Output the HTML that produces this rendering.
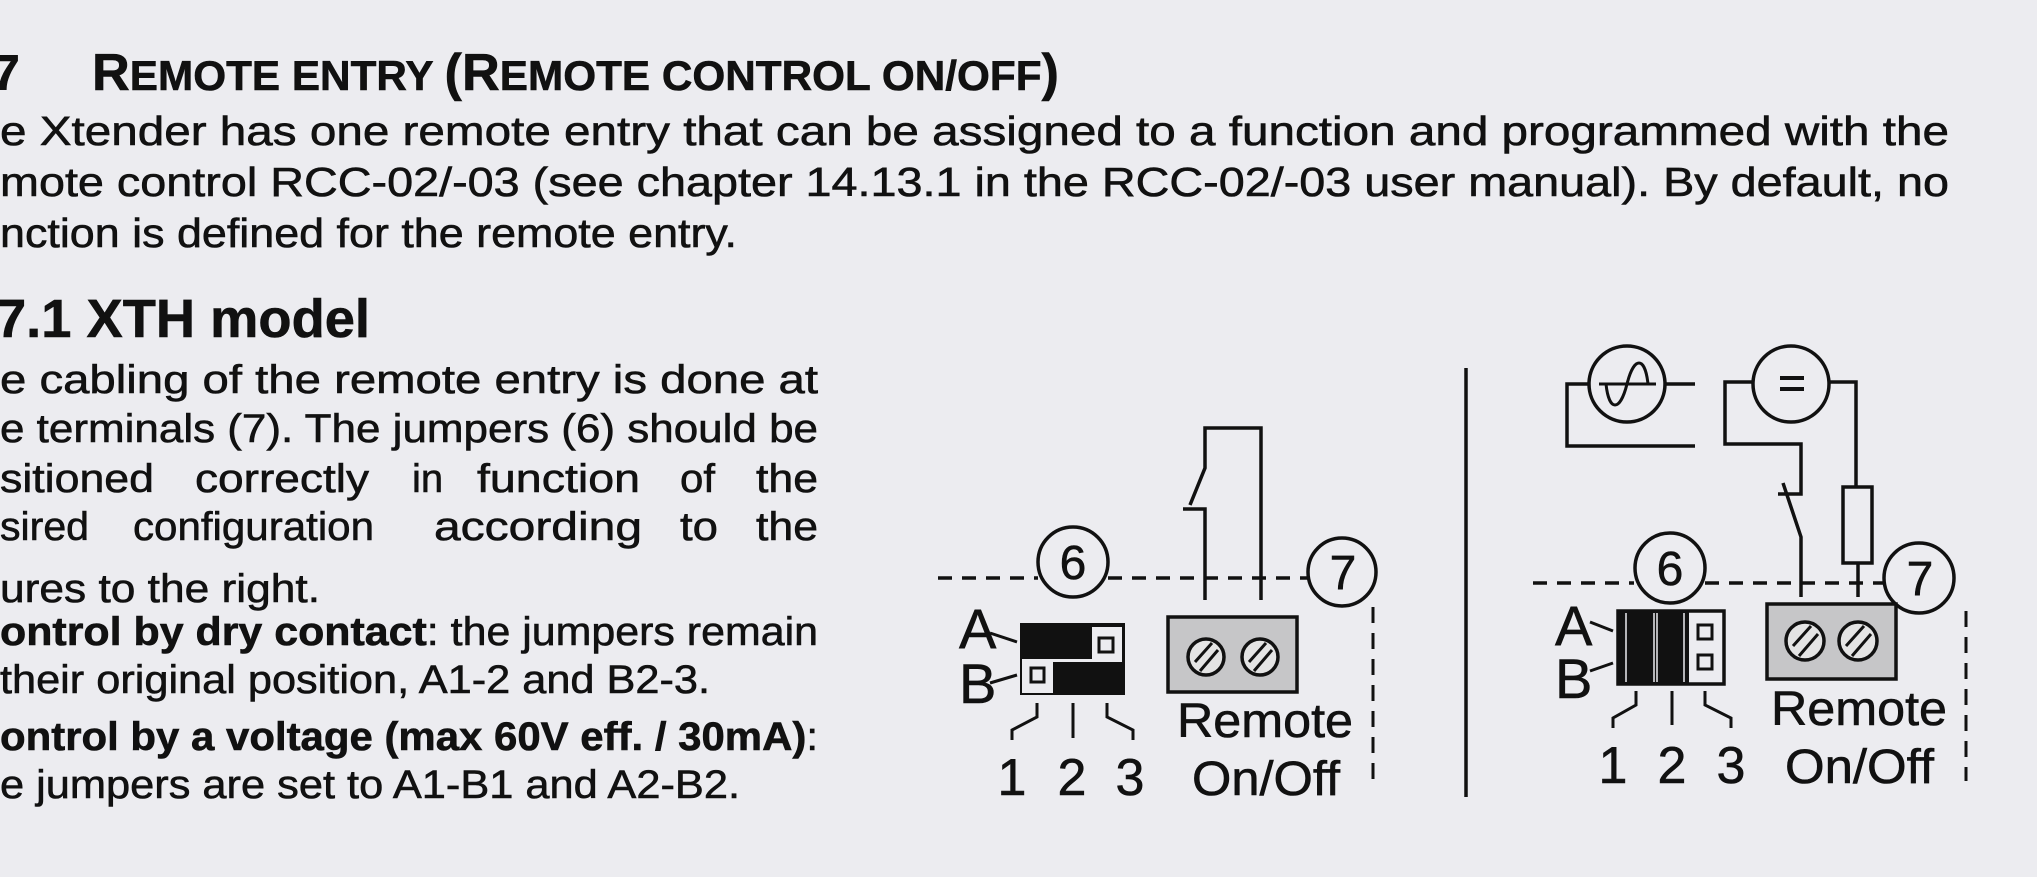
<!DOCTYPE html>
<html><head><meta charset="utf-8"><style>
html,body{margin:0;padding:0;background:#ececf0;}
svg{display:block;}
text{font-family:"Liberation Sans",sans-serif;fill:#111;stroke:#111;stroke-width:0.6px;}
</style></head><body>
<svg width="2037" height="877" viewBox="0 0 2037 877" xmlns="http://www.w3.org/2000/svg">
<rect width="2037" height="877" fill="#ececf0"/>
<!-- Headings -->
<text x="-8" y="90" font-size="50" font-weight="bold">7</text>
<text x="92" y="90" font-weight="bold" textLength="967" lengthAdjust="spacingAndGlyphs"><tspan font-size="52">R</tspan><tspan font-size="42">EMOTE ENTRY </tspan><tspan font-size="52">(R</tspan><tspan font-size="42">EMOTE CONTROL ON/OFF</tspan><tspan font-size="52">)</tspan></text>
<text x="0" y="145" font-size="41" textLength="1949" lengthAdjust="spacingAndGlyphs">e Xtender has one remote entry that can be assigned to a function and programmed with the</text>
<text x="0" y="196" font-size="41" textLength="1949" lengthAdjust="spacingAndGlyphs">mote control RCC-02/-03 (see chapter 14.13.1 in the RCC-02/-03 user manual). By default, no</text>
<text x="0" y="247" font-size="41" textLength="737" lengthAdjust="spacingAndGlyphs">nction is defined for the remote entry.</text>
<text x="-4" y="337" font-size="54" font-weight="bold" textLength="374" lengthAdjust="spacingAndGlyphs">7.1  XTH model</text>
<!-- left column -->
<g font-size="40">
<text x="0" y="393" textLength="818" lengthAdjust="spacingAndGlyphs">e cabling of the remote entry is done at</text>
<text x="0" y="442" textLength="818" lengthAdjust="spacingAndGlyphs">e terminals (7). The jumpers (6) should be</text>
<text x="0" y="492" textLength="154" lengthAdjust="spacingAndGlyphs">sitioned</text>
<text x="195" y="492" textLength="174" lengthAdjust="spacingAndGlyphs">correctly</text>
<text x="412" y="492">in</text>
<text x="477" y="492" textLength="163" lengthAdjust="spacingAndGlyphs">function</text>
<text x="680" y="492" textLength="35" lengthAdjust="spacingAndGlyphs">of</text>
<text x="756" y="492" textLength="62" lengthAdjust="spacingAndGlyphs">the</text>
<text x="0" y="540" textLength="89" lengthAdjust="spacingAndGlyphs">sired</text>
<text x="133" y="540" textLength="241" lengthAdjust="spacingAndGlyphs">configuration</text>
<text x="434" y="540" textLength="208" lengthAdjust="spacingAndGlyphs">according</text>
<text x="680" y="540" textLength="38" lengthAdjust="spacingAndGlyphs">to</text>
<text x="756" y="540" textLength="62" lengthAdjust="spacingAndGlyphs">the</text>
<text x="0" y="602" textLength="320" lengthAdjust="spacingAndGlyphs">ures to the right.</text>
<text x="0" y="645" textLength="818" lengthAdjust="spacingAndGlyphs"><tspan font-weight="bold">ontrol by dry contact</tspan>: the jumpers remain</text>
<text x="0" y="693" textLength="710" lengthAdjust="spacingAndGlyphs">their original position, A1-2 and B2-3.</text>
<text x="0" y="750" textLength="818" lengthAdjust="spacingAndGlyphs"><tspan font-weight="bold">ontrol by a voltage (max 60V eff. / 30mA)</tspan>:</text>
<text x="0" y="798" textLength="740" lengthAdjust="spacingAndGlyphs">e jumpers are set to A1-B1 and A2-B2.</text>
</g>

<g stroke="#111" stroke-width="3.5" fill="none">
<!-- LEFT DIAGRAM -->
<line x1="938" y1="578" x2="1038" y2="578" stroke-dasharray="14 10"/>
<line x1="1108" y1="578" x2="1308" y2="578" stroke-dasharray="14 10"/>
<line x1="1373" y1="607" x2="1373" y2="787" stroke-dasharray="16 10" stroke-width="3"/>
<circle cx="1073" cy="562" r="35" fill="#ececf0"/>
<circle cx="1342" cy="572" r="34" fill="#ececf0"/>
<polyline points="1261,600 1261,428 1205,428 1205,468 1190,505"/>
<polyline points="1183,509 1205,509 1205,600"/>
<!-- jumper block -->
<rect x="1020" y="623" width="105" height="72" fill="#111" stroke="none"/>
<rect x="1092" y="627" width="30" height="35" fill="#ececf0" stroke="none"/>
<rect x="1099" y="638" width="14" height="14" stroke-width="3"/>
<rect x="1022" y="659" width="31" height="34" fill="#ececf0" stroke="none"/>
<rect x="1031" y="668" width="13" height="14" stroke-width="3"/>
<rect x="1053" y="659" width="39" height="3" fill="#ececf0" stroke="none"/>
<line x1="990" y1="633" x2="1017" y2="642" stroke-width="3"/>
<line x1="990" y1="683" x2="1017" y2="675" stroke-width="3"/>
<!-- terminal -->
<rect x="1168" y="617" width="129" height="75" fill="#c6c6c8"/>
<circle cx="1206" cy="657" r="18" fill="#e4e4e4"/>
<circle cx="1260" cy="657" r="18" fill="#e4e4e4"/>
<line x1="1195" y1="662" x2="1212" y2="643" stroke-width="3"/>
<line x1="1200" y1="671" x2="1218" y2="650" stroke-width="3"/>
<line x1="1249" y1="662" x2="1266" y2="643" stroke-width="3"/>
<line x1="1254" y1="671" x2="1272" y2="650" stroke-width="3"/>
<!-- pins -->
<polyline points="1037,703 1037,717 1012,730 1012,740" stroke-width="3"/>
<line x1="1073" y1="703" x2="1073" y2="738" stroke-width="3"/>
<polyline points="1107,703 1107,717 1133,730 1133,740" stroke-width="3"/>

<!-- separator -->
<line x1="1466" y1="368" x2="1466" y2="797" stroke-width="3.5"/>

<!-- RIGHT DIAGRAM -->
<line x1="1533" y1="583" x2="1634" y2="583" stroke-dasharray="14 10"/>
<line x1="1705" y1="583" x2="1883" y2="583" stroke-dasharray="14 10"/>
<line x1="1966" y1="611" x2="1966" y2="781" stroke-dasharray="16 10" stroke-width="3"/>
<circle cx="1670" cy="568" r="35" fill="#ececf0"/>
<circle cx="1919" cy="578" r="35" fill="#ececf0"/>
<!-- AC source -->
<circle cx="1627" cy="384" r="38"/>
<polyline points="1589,384 1567,384 1567,446 1695,446"/>
<line x1="1665" y1="384" x2="1695" y2="384"/>
<line x1="1599" y1="384" x2="1656" y2="384" stroke-width="3"/>
<path d="M1606,384 C1609,412 1620,412 1627,384 C1634,356 1645,356 1648,384" stroke-width="3"/>
<!-- DC source -->
<circle cx="1791" cy="384" r="38"/>
<rect x="1780" y="376" width="24" height="4" fill="#111" stroke="none"/>
<rect x="1780" y="387" width="24" height="4" fill="#111" stroke="none"/>
<polyline points="1753,382 1725,382 1725,444 1801,444 1801,494 1778,494"/>
<polyline points="1783,483 1801,537 1801,597"/>
<polyline points="1829,382 1856,382 1856,487"/>
<rect x="1843" y="487" width="29" height="76" fill="#ececf0"/>
<line x1="1858" y1="563" x2="1858" y2="597"/>
<!-- jumper block -->
<rect x="1618" y="611" width="106" height="73" fill="#ececf0"/>
<rect x="1618" y="611" width="71" height="73" fill="#111" stroke="none"/>
<line x1="1626" y1="613" x2="1626" y2="682" stroke="#ececf0" stroke-width="1.5"/>
<line x1="1654" y1="613" x2="1654" y2="682" stroke="#ececf0" stroke-width="1.5"/>
<line x1="1657" y1="613" x2="1657" y2="682" stroke="#ececf0" stroke-width="1.5"/>
<line x1="1684" y1="613" x2="1684" y2="682" stroke="#ececf0" stroke-width="1.5"/>
<rect x="1698" y="625" width="14" height="14" stroke-width="3"/>
<rect x="1698" y="655" width="14" height="14" stroke-width="3"/>
<line x1="1590" y1="622" x2="1613" y2="631" stroke-width="3"/>
<line x1="1590" y1="671" x2="1613" y2="663" stroke-width="3"/>
<!-- terminal -->
<rect x="1767" y="604" width="129" height="75" fill="#c6c6c8"/>
<circle cx="1805" cy="641" r="19" fill="#e4e4e4"/>
<circle cx="1858" cy="641" r="19" fill="#e4e4e4"/>
<line x1="1793" y1="646" x2="1811" y2="626" stroke-width="3"/>
<line x1="1799" y1="656" x2="1818" y2="634" stroke-width="3"/>
<line x1="1846" y1="646" x2="1864" y2="626" stroke-width="3"/>
<line x1="1852" y1="656" x2="1871" y2="634" stroke-width="3"/>
<!-- pins -->
<polyline points="1636,691 1636,705 1613,718 1613,728" stroke-width="3"/>
<line x1="1672" y1="691" x2="1672" y2="725" stroke-width="3"/>
<polyline points="1705,691 1705,705 1731,718 1731,728" stroke-width="3"/>
</g>

<!-- diagram labels -->
<g font-size="48" text-anchor="middle">
<text x="1073" y="579">6</text>
<text x="1343" y="589">7</text>
<text x="1670" y="585">6</text>
<text x="1920" y="595">7</text>
</g>
<g font-size="56">
<text x="959" y="648">A</text>
<text x="959" y="703">B</text>
<text x="1555" y="645">A</text>
<text x="1555" y="698">B</text>
</g>
<g font-size="52" text-anchor="middle">
<text x="1012" y="795">1</text>
<text x="1072" y="795">2</text>
<text x="1130" y="795">3</text>
<text x="1613" y="783">1</text>
<text x="1672" y="783">2</text>
<text x="1731" y="783">3</text>
</g>
<g font-size="48">
<text x="1177" y="737" textLength="176" lengthAdjust="spacingAndGlyphs">Remote</text>
<text x="1192" y="795" textLength="148" lengthAdjust="spacingAndGlyphs">On/Off</text>
<text x="1771" y="725" textLength="176" lengthAdjust="spacingAndGlyphs">Remote</text>
<text x="1785" y="783" textLength="149" lengthAdjust="spacingAndGlyphs">On/Off</text>
</g>
</svg>
</body></html>
